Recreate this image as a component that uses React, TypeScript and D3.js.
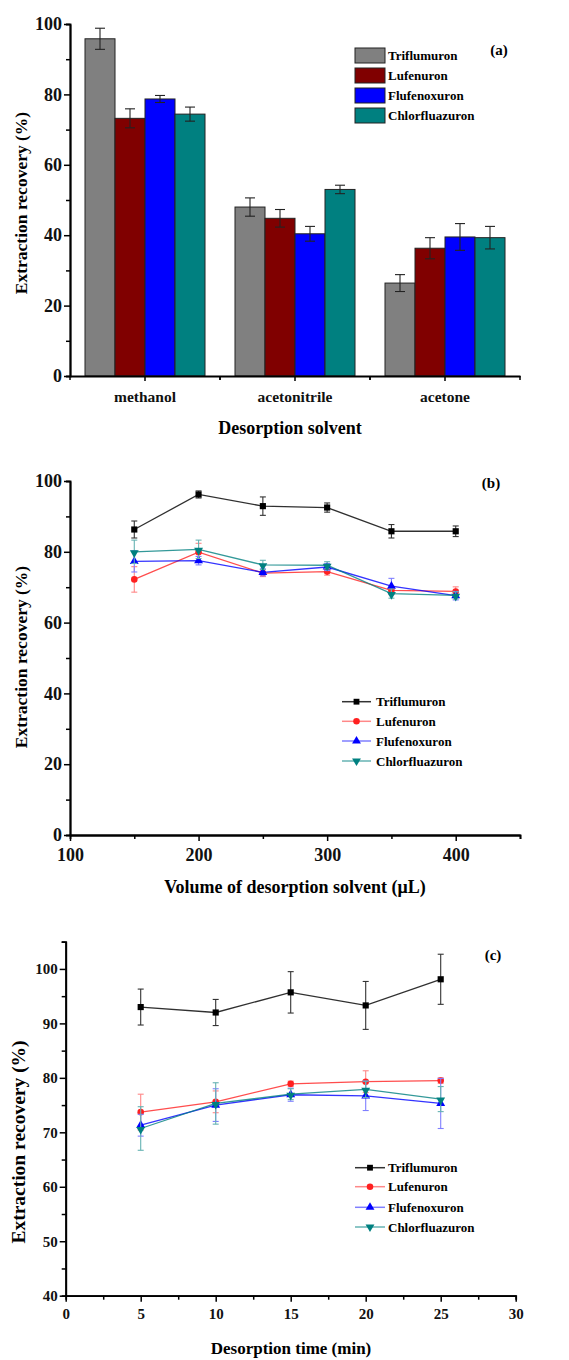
import React, { useRef, useEffect } from 'react';
import * as d3 from 'd3';

const compounds = ['Triflumuron', 'Lufenuron', 'Flufenoxuron', 'Chlorfluazuron'];

// panel (a): desorption solvent
const solvents = ['methanol', 'acetonitrile', 'acetone'];
const solventMeans = [
  [95.8, 73.2, 78.7, 74.4],
  [48.0, 44.8, 40.4, 53.0],
  [26.4, 36.3, 39.5, 39.3],
];
const solventErrs = [
  [3.0, 2.7, 1.0, 2.0],
  [2.6, 2.5, 2.1, 1.2],
  [2.4, 3.0, 3.8, 3.2],
];

// panel (b): volume of desorption solvent
const volumes = [150, 200, 250, 300, 350, 400];
const volumeMeans = [
  [86.3, 96.2, 92.9, 92.5, 85.8, 85.8],
  [72.2, 79.9, 74.0, 74.4, 69.1, 68.8],
  [77.3, 77.5, 74.2, 75.7, 70.3, 67.6],
  [80.0, 80.7, 76.3, 76.2, 68.2, 67.7],
];
const volumeErrs = [
  [2.4, 1.0, 2.6, 1.3, 1.9, 1.5],
  [3.6, 2.5, 1.0, 1.0, 1.2, 1.3],
  [3.0, 1.2, 1.0, 1.0, 2.2, 1.2],
  [3.3, 2.6, 1.3, 1.0, 1.3, 1.0],
];

// panel (c): desorption time
const times = [5, 10, 15, 20, 25];
const timeMeans = [
  [93.0, 92.0, 95.7, 93.3, 98.1],
  [73.7, 75.6, 78.9, 79.3, 79.5],
  [71.3, 75.0, 76.9, 76.7, 75.3],
  [70.7, 75.3, 77.0, 77.9, 76.1],
];
const timeErrs = [
  [3.3, 2.4, 3.8, 4.4, 4.6],
  [3.3, 2.0, 0.5, 2.0, 0.5],
  [2.0, 3.0, 1.2, 2.7, 4.6],
  [4.0, 3.8, 1.0, 1.5, 2.3],
];

const barColors = ['#808080', '#800000', '#0000ff', '#008080'];
const lineColors = ['#1a1a1a', '#ff2020', '#0000ff', '#008080'];
const errColors = ['#333333', '#ff8888', '#7f7fff', '#66b3b3'];
const symbols = [d3.symbolSquare, d3.symbolCircle, d3.symbolTriangle, d3.symbolTriangle];

const FONT = '"Liberation Serif", "Times New Roman", serif';

const styleAxis = (g, size) => {
  g.selectAll('path').attr('stroke', '#000').attr('stroke-width', 1.8);
  g.selectAll('line').attr('stroke', '#000').attr('stroke-width', 1.5);
  g.selectAll('text')
    .attr('font-family', FONT)
    .attr('font-weight', 'bold')
    .attr('font-size', size)
    .attr('fill', '#111');
};

const yTitle = (svg, x, y, size) => {
  svg
    .append('text')
    .attr('transform', `translate(${x},${y}) rotate(-90)`)
    .attr('text-anchor', 'middle')
    .attr('font-family', FONT)
    .attr('font-weight', 'bold')
    .attr('font-size', size)
    .text('Extraction recovery (%)');
};

const plainText = (svg, x, y, size, txt, anchor = 'middle') => {
  svg
    .append('text')
    .attr('x', x)
    .attr('y', y)
    .attr('text-anchor', anchor)
    .attr('font-family', FONT)
    .attr('font-weight', 'bold')
    .attr('font-size', size)
    .text(txt);
};

const drawLinePanel = (svg, xs, means, errs, x, y) => {
  means.forEach((vals, i) => {
    const g = svg.append('g');
    const pts = vals.map((v, j) => ({ x: xs[j], v, e: errs[i][j] }));
    g.append('path')
      .attr('d', d3.line().x((d) => x(d.x)).y((d) => y(d.v))(pts))
      .attr('fill', 'none')
      .attr('stroke', lineColors[i])
      .attr('stroke-opacity', i === 0 ? 0.9 : 0.8)
      .attr('stroke-width', 1.3);
    pts.forEach((d) => {
      const cx = x(d.x);
      const y1 = y(d.v + d.e);
      const y2 = y(d.v - d.e);
      g.append('line').attr('x1', cx).attr('x2', cx).attr('y1', y1).attr('y2', y2)
        .attr('stroke', errColors[i]).attr('stroke-width', 1.1);
      [y1, y2].forEach((yy) => {
        g.append('line').attr('x1', cx - 3).attr('x2', cx + 3).attr('y1', yy).attr('y2', yy)
          .attr('stroke', errColors[i]).attr('stroke-width', 1.1);
      });
    });
    g.selectAll('path.pt')
      .data(pts)
      .join('path')
      .attr('class', 'pt')
      .attr('d', d3.symbol(symbols[i], i === 0 ? 38 : 34))
      .attr('transform', (d) => `translate(${x(d.x)},${y(d.v) + (i === 3 ? 1 : 0)})${i === 3 ? ' rotate(180)' : ''}`)
      .attr('fill', i === 0 ? '#000' : lineColors[i]);
  });
};

const drawLineLegend = (svg, x0, x1, ys, tx) => {
  compounds.forEach((c, i) => {
    const yy = ys[i];
    svg.append('line').attr('x1', x0).attr('x2', x1).attr('y1', yy).attr('y2', yy)
      .attr('stroke', i === 0 ? '#333' : errColors[i]).attr('stroke-width', 1.5);
    svg.append('path')
      .attr('d', d3.symbol(symbols[i], 34)())
      .attr('transform', `translate(${(x0 + x1) / 2},${yy})${i === 3 ? ' rotate(180)' : ''}`)
      .attr('fill', i === 0 ? '#000' : lineColors[i]);
    plainText(svg, tx, yy + 4.5, 13, c, 'start');
  });
};

const App = () => {
  const ref = useRef(null);

  useEffect(() => {
    const svg = d3.select(ref.current);
    svg.selectAll('*').remove();

    // ---------- (a) bars ----------
    const xa = d3.scaleBand().domain(solvents).range([70, 520]);
    const xin = d3.scaleBand().domain(compounds).range([15, 135]);
    const ya = d3.scaleLinear().domain([0, 100]).range([376, 24]);

    solvents.forEach((s, si) => {
      const g = svg.append('g').attr('transform', `translate(${xa(s)},0)`);
      compounds.forEach((c, ci) => {
        const v = solventMeans[si][ci];
        const e = solventErrs[si][ci];
        g.append('rect')
          .attr('x', xin(c))
          .attr('y', ya(v))
          .attr('width', xin.bandwidth())
          .attr('height', ya(0) - ya(v))
          .attr('fill', barColors[ci])
          .attr('stroke', '#222')
          .attr('stroke-width', 1);
        const cx = xin(c) + xin.bandwidth() / 2;
        g.append('line').attr('x1', cx).attr('x2', cx).attr('y1', ya(v + e)).attr('y2', ya(v - e))
          .attr('stroke', '#222').attr('stroke-width', 1.1);
        [v + e, v - e].forEach((vv) => {
          g.append('line').attr('x1', cx - 5).attr('x2', cx + 5).attr('y1', ya(vv)).attr('y2', ya(vv))
            .attr('stroke', '#222').attr('stroke-width', 1.1);
        });
      });
    });

    const ayMinor = svg.append('g').attr('transform', 'translate(70,0)')
      .call(d3.axisLeft(ya).tickValues([10, 30, 50, 70, 90]).tickSize(4).tickFormat(() => ''));
    styleAxis(ayMinor, 17);
    const ay = svg.append('g').attr('transform', 'translate(70,0)')
      .call(d3.axisLeft(ya).tickValues([0, 20, 40, 60, 80, 100]).tickSize(6).tickSizeOuter(0).tickPadding(2));
    styleAxis(ay, 18);

    const axMinor = svg.append('g').attr('transform', 'translate(0,376)');
    solvents.forEach((s) => {
      [xa(s), xa(s) + xa.bandwidth()].forEach((px) => {
        axMinor.append('line').attr('x1', px).attr('x2', px).attr('y1', 0).attr('y2', 4)
          .attr('stroke', '#000').attr('stroke-width', 1.5);
      });
    });
    const ax = svg.append('g').attr('transform', 'translate(0,376)')
      .call(d3.axisBottom(xa).tickSize(5).tickSizeOuter(0).tickPadding(10));
    styleAxis(ax, 15.5);

    yTitle(svg, 27, 203, 17.5);
    plainText(svg, 290, 434, 18, 'Desorption solvent');
    plainText(svg, 499, 55, 15, '(a)');

    compounds.forEach((c, i) => {
      svg.append('rect').attr('x', 355).attr('y', 48 + i * 20).attr('width', 30).attr('height', 15)
        .attr('fill', barColors[i]).attr('stroke', '#222').attr('stroke-width', 1);
      plainText(svg, 388, 60 + i * 20, 13, c, 'start');
    });

    // ---------- (b) volume ----------
    const xb = d3.scaleLinear().domain([100, 450]).range([70, 520]);
    const yb = d3.scaleLinear().domain([0, 100]).range([835, 481]);

    const byMinor = svg.append('g').attr('transform', 'translate(70,0)')
      .call(d3.axisLeft(yb).tickValues([10, 30, 50, 70, 90]).tickSize(4).tickFormat(() => ''));
    styleAxis(byMinor, 17);
    const by = svg.append('g').attr('transform', 'translate(70,0)')
      .call(d3.axisLeft(yb).tickValues([0, 20, 40, 60, 80, 100]).tickSize(6).tickSizeOuter(0).tickPadding(2));
    styleAxis(by, 18);
    const bxMinor = svg.append('g').attr('transform', 'translate(0,835)')
      .call(d3.axisBottom(xb).tickValues([150, 250, 350, 450]).tickSize(4).tickFormat(() => ''));
    styleAxis(bxMinor, 17);
    const bx = svg.append('g').attr('transform', 'translate(0,835)')
      .call(d3.axisBottom(xb).tickValues([100, 200, 300, 400]).tickSize(6).tickSizeOuter(0).tickPadding(7));
    styleAxis(bx, 18);

    drawLinePanel(svg, volumes, volumeMeans, volumeErrs, xb, yb);

    yTitle(svg, 27, 657, 17.5);
    plainText(svg, 295, 893, 18, 'Volume of desorption solvent (\u03bcL)');
    plainText(svg, 491, 488, 15, '(b)');
    drawLineLegend(svg, 342, 371, [701.7, 721.3, 741, 761], 376);

    // ---------- (c) time ----------
    const xc = d3.scaleLinear().domain([0, 30]).range([65.7, 515.7]);
    const yc = d3.scaleLinear().domain([40, 105]).range([1295.7, 941.7]);

    const cyMinor = svg.append('g').attr('transform', 'translate(65.7,0)')
      .call(d3.axisLeft(yc).tickValues([45, 55, 65, 75, 85, 95, 105]).tickSize(4).tickFormat(() => ''));
    styleAxis(cyMinor, 15);
    const cy = svg.append('g').attr('transform', 'translate(65.7,0)')
      .call(d3.axisLeft(yc).tickValues([40, 50, 60, 70, 80, 90, 100]).tickSize(6).tickSizeOuter(0).tickPadding(2));
    styleAxis(cy, 15);
    const cxMinor = svg.append('g').attr('transform', 'translate(0,1295.7)')
      .call(d3.axisBottom(xc).tickValues([2.5, 7.5, 12.5, 17.5, 22.5, 27.5]).tickSize(4).tickFormat(() => ''));
    styleAxis(cxMinor, 15);
    const cx = svg.append('g').attr('transform', 'translate(0,1295.7)')
      .call(d3.axisBottom(xc).tickValues([0, 5, 10, 15, 20, 25, 30]).tickSize(6).tickSizeOuter(0).tickPadding(7));
    styleAxis(cx, 15);

    drawLinePanel(svg, times, timeMeans, timeErrs, xc, yc);

    yTitle(svg, 25, 1142, 19.5);
    plainText(svg, 291, 1354, 17, 'Desorption time (min)');
    plainText(svg, 493, 960, 15, '(c)');
    drawLineLegend(svg, 355, 385, [1167.7, 1186.7, 1207.3, 1227], 388);

    return () => {
      svg.selectAll('*').remove();
    };
  }, []);

  return (
    <div style={{ position: 'absolute', left: 0, top: 0, width: 569, height: 1360, background: '#fff' }}>
      <svg ref={ref} width={569} height={1360} style={{ display: 'block' }} />
    </div>
  );
};

export default App;
